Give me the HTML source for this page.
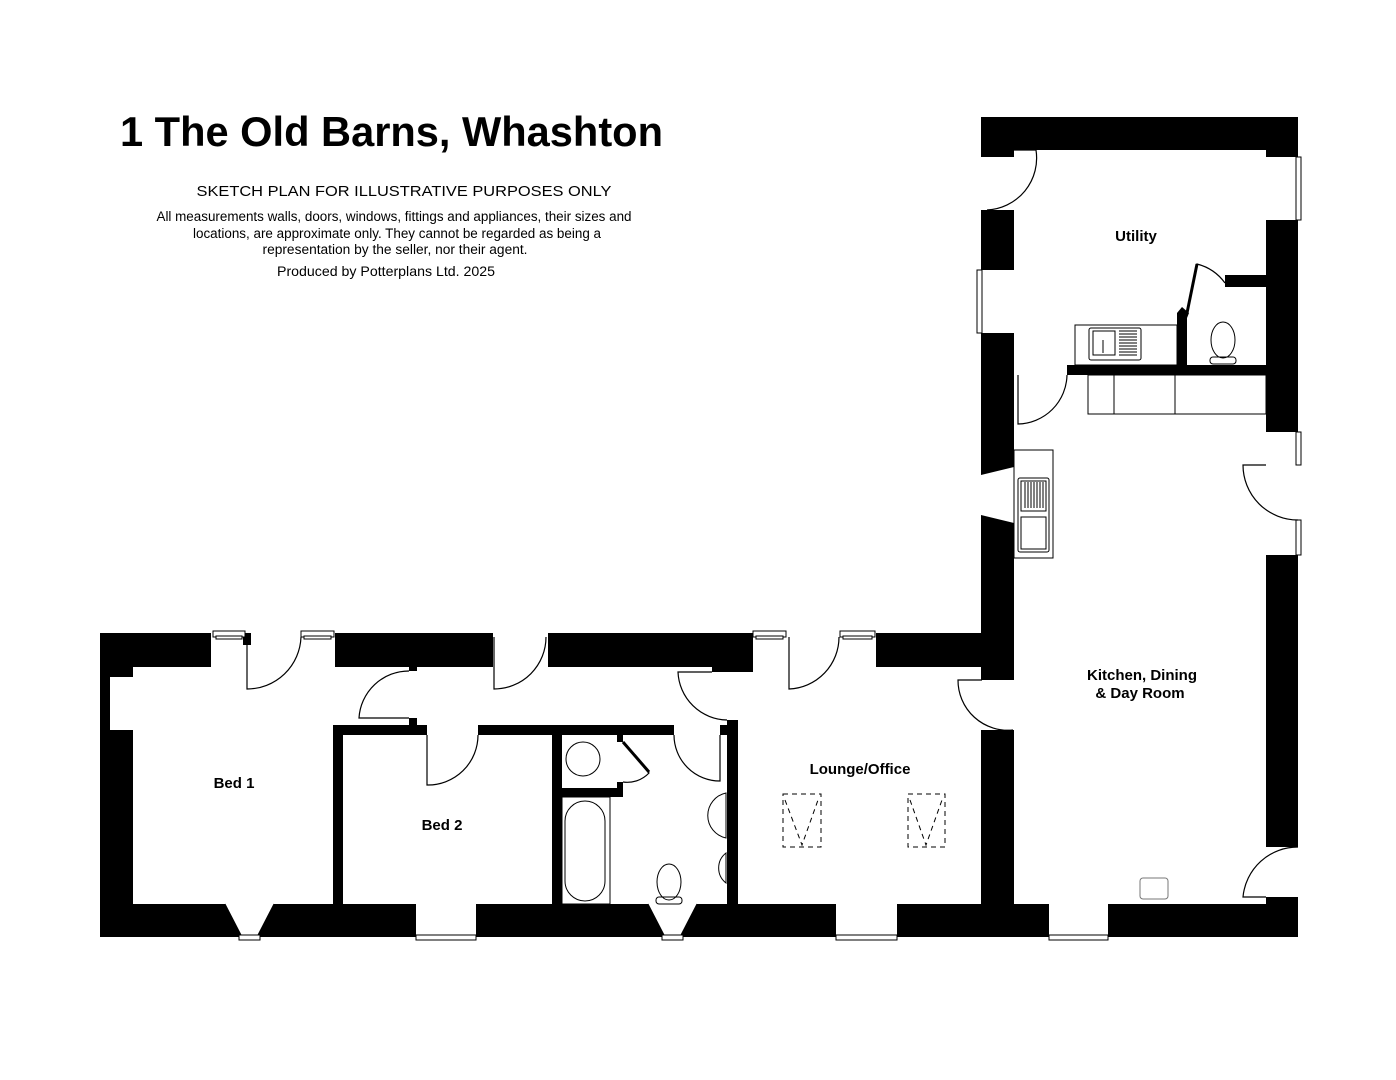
<!DOCTYPE html>
<html><head><meta charset="utf-8"><style>
html,body{margin:0;padding:0;background:#fff;}
svg{display:block;}
text{font-family:"Liberation Sans",Arial,sans-serif;}
</style></head><body>
<svg width="1396" height="1080" viewBox="0 0 1396 1080" xmlns="http://www.w3.org/2000/svg">
<rect width="1396" height="1080" fill="#fff"/>
<text x="120" y="146" font-size="42" font-weight="bold" textLength="543" lengthAdjust="spacingAndGlyphs">1 The Old Barns, Whashton</text>
<text x="404" y="196" font-size="15" text-anchor="middle" textLength="415" lengthAdjust="spacingAndGlyphs">SKETCH PLAN FOR ILLUSTRATIVE PURPOSES ONLY</text>
<text x="394" y="221" font-size="13.4" text-anchor="middle" textLength="475" lengthAdjust="spacingAndGlyphs">All measurements walls, doors, windows, fittings and appliances, their sizes and</text>
<text x="397" y="238" font-size="13.4" text-anchor="middle" textLength="408" lengthAdjust="spacingAndGlyphs">locations, are approximate only. They cannot be regarded as being a</text>
<text x="395" y="254" font-size="13.4" text-anchor="middle" textLength="265" lengthAdjust="spacingAndGlyphs">representation by the seller, nor their agent.</text>
<text x="386" y="276" font-size="14" text-anchor="middle" textLength="218" lengthAdjust="spacingAndGlyphs">Produced by Potterplans Ltd. 2025</text>

<g fill="#000">
<rect x="981" y="117" width="317" height="33"/>
<rect x="981" y="117" width="33" height="40"/>
<rect x="1266" y="117" width="32" height="40"/>
<rect x="981" y="210" width="33" height="60"/>
<polygon points="981,333 1014,333 1014,467 981,475"/>
<polygon points="981,515 1014,523 1014,680 981,680"/>
<rect x="981" y="633" width="33" height="47"/>
<rect x="981" y="730" width="33" height="175"/>
<rect x="1266" y="220" width="32" height="212"/>
<rect x="1266" y="555" width="32" height="292"/>
<rect x="1266" y="897" width="32" height="40"/>
<rect x="1067" y="365" width="199" height="10"/>
<rect x="1177" y="313" width="10" height="52"/>
<polygon points="1177,313 1182,307 1189,313 1187,318"/>
<rect x="1225" y="275" width="41" height="12"/>
<rect x="100" y="633" width="111" height="34"/>
<rect x="335" y="633" width="158" height="34"/>
<rect x="548" y="633" width="205" height="34"/>
<rect x="712" y="633" width="41" height="39"/>
<rect x="876" y="633" width="106" height="34"/>
<rect x="100" y="633" width="10" height="272"/>
<rect x="100" y="667" width="33" height="10"/>
<rect x="100" y="730" width="33" height="175"/>
<rect x="100" y="904" width="1198" height="33"/>
<rect x="333" y="725" width="94" height="10"/>
<rect x="478" y="725" width="196" height="10"/>
<rect x="333" y="725" width="10" height="180"/>
<rect x="552" y="735" width="10" height="170"/>
<rect x="562" y="788" width="61" height="9"/>
<rect x="617" y="735" width="6" height="7"/>
<rect x="617" y="782" width="6" height="10"/>
<rect x="727" y="720" width="11" height="185"/>
<rect x="720" y="725" width="8" height="10"/>
<rect x="409" y="667" width="8" height="4"/>
<rect x="409" y="718" width="8" height="7"/>
<rect x="243" y="633" width="8" height="12"/>
</g>

<g fill="#fff" stroke="#000" stroke-width="1">
<rect x="213" y="631" width="32" height="6"/><rect x="216" y="636" width="26" height="3"/>
<rect x="301" y="631" width="33" height="6"/><rect x="304" y="636" width="27" height="3"/>
<rect x="753" y="631" width="33" height="6"/><rect x="756" y="636" width="27" height="3"/>
<rect x="840" y="631" width="35" height="6"/><rect x="843" y="636" width="29" height="3"/>
<rect x="416" y="904" width="60" height="33" stroke="none"/>
<rect x="416" y="935" width="60" height="5"/>
<rect x="836" y="904" width="61" height="33" stroke="none"/>
<rect x="836" y="935" width="61" height="5"/>
<rect x="1049" y="904" width="59" height="33" stroke="none"/>
<rect x="1049" y="935" width="59" height="5"/>
<polygon points="225,904 274,904 258,935 241,935" stroke="none"/>
<path d="M225,904 L241,935 M274,904 L258,935" fill="none"/>
<rect x="239" y="935" width="21" height="5"/>
<polygon points="648,904 697,904 681,935 664,935" stroke="none"/>
<path d="M648,904 L664,935 M697,904 L681,935" fill="none"/>
<rect x="662" y="935" width="21" height="5"/>
<rect x="1266" y="157" width="32" height="63" stroke="none"/>
<rect x="1296" y="157" width="5" height="63"/>
<rect x="977" y="270" width="37" height="63" stroke="none"/>
<rect x="977" y="270" width="5" height="63"/>
<rect x="1296" y="432" width="5" height="33"/>
<rect x="1296" y="520" width="5" height="35"/>
</g>

<g fill="none" stroke="#000" stroke-width="1.2">
<path d="M987,150 L1036,150 A52,52 0 0 1 987,210"/>
<path d="M1018,375 L1018,424 A50,50 0 0 0 1067,375"/>
<path d="M1187,313 L1197,264 A50,50 0 0 1 1225,283"/>
<path d="M1266,465 L1243,465 A55,55 0 0 0 1298,520"/>
<path d="M1298,847 A55,55 0 0 0 1243,897 L1266,897"/>
<path d="M982,680 L958,680 A50,50 0 0 0 1013,730"/>
<path d="M247,637 L247,689 A54,54 0 0 0 301,637"/>
<path d="M409,671 A50,50 0 0 0 359,718 L409,718"/>
<path d="M494,637 L494,689 A52,52 0 0 0 546,637"/>
<path d="M789,637 L789,689 A52,52 0 0 0 839,637"/>
<path d="M712,672 L678,672 A50,50 0 0 0 727,720"/>
<path d="M427,735 L427,785 A50,50 0 0 0 478,735"/>
<path d="M720,735 L720,781 A46,46 0 0 1 674,735"/>
<path d="M623,742 L649,773 A30,30 0 0 1 623,782"/>
</g>
<line x1="623" y1="742" x2="649" y2="772" stroke="#000" stroke-width="3"/>
<line x1="1187" y1="313" x2="1197" y2="264" stroke="#000" stroke-width="3"/>

<g fill="none" stroke="#000" stroke-width="1">
<rect x="1075" y="325" width="102" height="40"/>
<rect x="1089" y="328" width="52" height="32" rx="2"/>
<rect x="1093" y="331" width="22" height="24"/>
<path d="M1119,331h18M1119,334h18M1119,337h18M1119,340h18M1119,343h18M1119,346h18M1119,349h18M1119,352h18M1119,355h18"/>
<line x1="1103" y1="340" x2="1103" y2="353"/>
<ellipse cx="1223" cy="340" rx="12" ry="18"/>
<rect x="1210" y="357" width="26" height="7" rx="3"/>
<rect x="1088" y="375" width="178" height="39"/>
<line x1="1114" y1="375" x2="1114" y2="414"/>
<line x1="1175" y1="375" x2="1175" y2="414"/>
<rect x="1014" y="450" width="39" height="108"/>
<rect x="1018" y="478" width="31" height="74" rx="2"/>
<rect x="1021" y="481" width="25" height="30"/>
<rect x="1021" y="517" width="25" height="32"/>
<path d="M1025,482v26M1028,482v26M1031,482v26M1034,482v26M1037,482v26M1040,482v26M1043,482v26"/>
<circle cx="583" cy="759" r="17"/>
<rect x="562" y="797" width="48" height="107"/>
<rect x="565" y="801" width="40" height="100" rx="20"/>
<path d="M726,793 A23,23 0 0 0 726,838 Z"/>
<path d="M726,853 A19,19 0 0 0 726,883 Z"/>
<ellipse cx="669" cy="882" rx="12" ry="18"/>
<rect x="656" y="897" width="26" height="7" rx="3"/>
<rect x="1140" y="878" width="28" height="21" rx="3" stroke="#777"/>
</g>
<g fill="none" stroke="#000" stroke-width="1" stroke-dasharray="5,4">
<rect x="783" y="794" width="38" height="53"/>
<path d="M785,800 L802,845 L818,800"/>
<rect x="908" y="794" width="37" height="53"/>
<path d="M910,800 L926,845 L942,800"/>
</g>

<g font-size="15" font-weight="bold" text-anchor="middle">
<text x="1136" y="241">Utility</text>
<text x="1142" y="680">Kitchen, Dining</text>
<text x="1140" y="698">&amp; Day Room</text>
<text x="860" y="774">Lounge/Office</text>
<text x="234" y="788">Bed 1</text>
<text x="442" y="830">Bed 2</text>
</g>
</svg>
</body></html>
